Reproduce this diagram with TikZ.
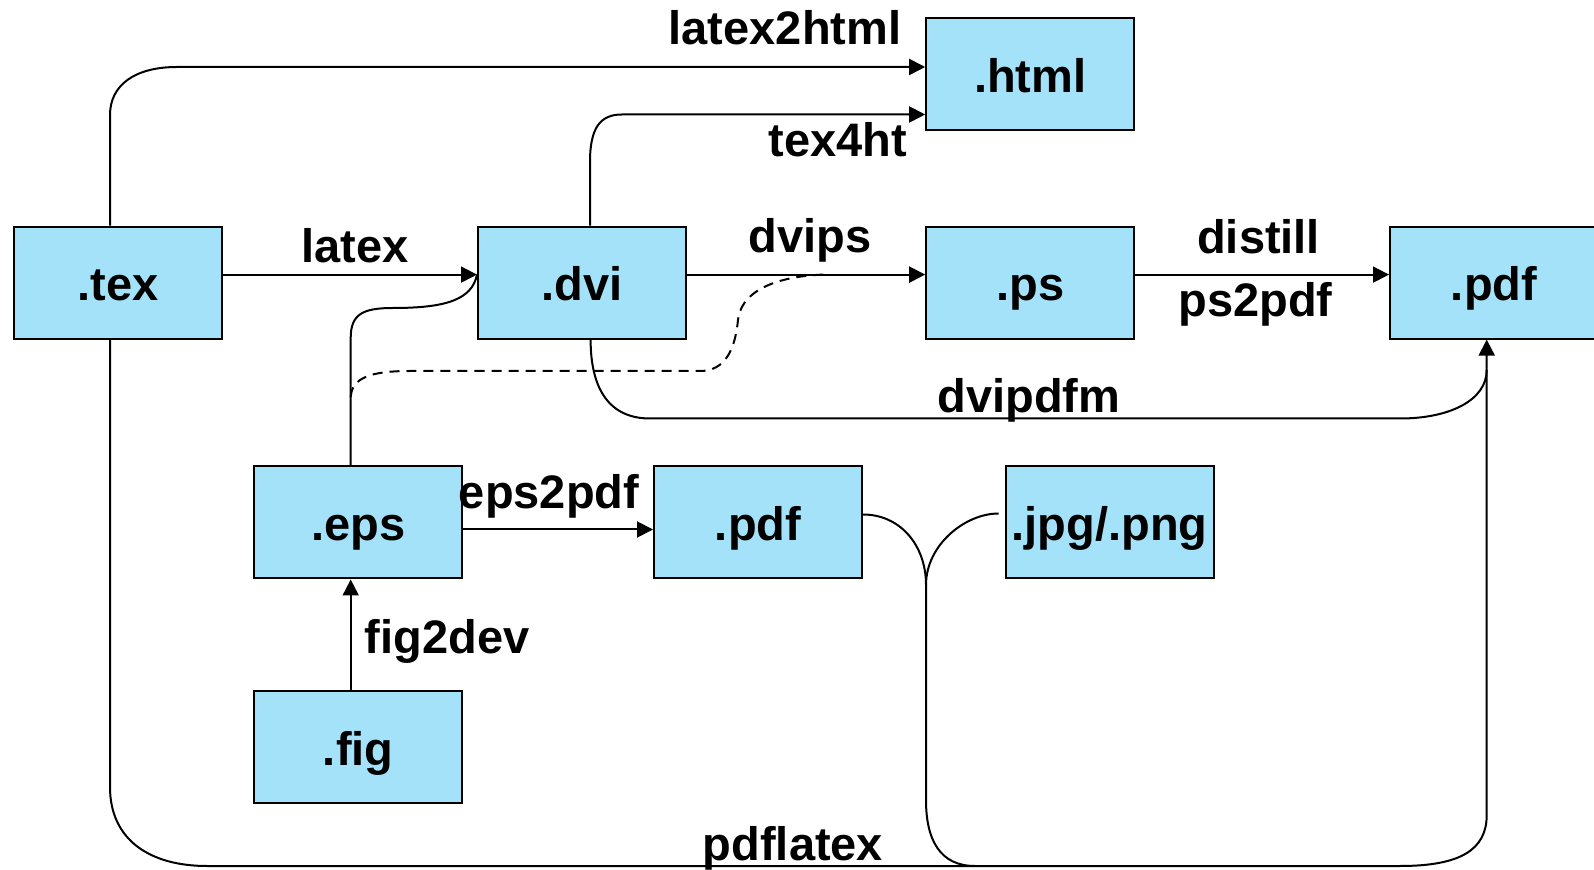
\documentclass[tikz,border=0pt]{standalone}
\usepackage{fontspec}
\setmainfont{Liberation Sans}
\usetikzlibrary{arrows.meta}
\definecolor{boxblue}{RGB}{164,226,250}
\begin{document}
\begin{tikzpicture}[x=0.5pt,y=-0.5pt,line width=1pt,
  filebox/.style={draw=black,fill=boxblue,minimum width=104pt,minimum height=56pt,
    inner sep=0pt,text height=22.4pt,text depth=4pt,
    font=\fontsize{23.5}{28}\selectfont\bfseries},
  tool/.style={inner sep=0pt,anchor=base,font=\fontsize{23.5}{28}\selectfont\bfseries},
  flow/.style={-{Triangle[length=8pt,width=8pt]}},
  maybe/.style={dash pattern=on 5pt off 3.5pt},
]
\useasboundingbox (0,0) rectangle (1594,870);

% file types
\node[filebox] (tex)  at (118.4,282.6) {.tex};
\node[filebox] (dvi)  at (582,282.6)   {.dvi};
\node[filebox] (ps)   at (1030.2,282.6) {.ps};
\node[filebox] (pdfR) at (1494,282.6)  {.pdf};
\node[filebox] (html) at (1030.2,74.2) {.html};
\node[filebox] (eps)  at (358.2,522.5) {.eps};
\node[filebox] (pdfM) at (758,522.5)   {.pdf};
\node[filebox] (jpg)  at (1109.6,522.5) {.jpg/.png};
\node[filebox] (fig)  at (358.2,747.2) {.fig};

% straight conversions
\draw[flow] ([yshift=4pt]tex.east) -- ([yshift=4pt]dvi.west);
\draw[flow] ([yshift=4pt]dvi.east) -- ([yshift=4pt]ps.west);
\draw[flow] ([yshift=4pt]ps.east) -- ([yshift=4pt]pdfR.west);
\draw[flow] ([yshift=-3.5pt]eps.east) -- ([yshift=-3.5pt]pdfM.west);
\draw[flow] ([xshift=-3.75pt]fig.north) -- ([xshift=-3.75pt]eps.south);

% to html
\draw[flow] ([xshift=-4.2pt]tex.north) -- (110,115)
  .. controls (110,85) and (135,67) .. (177,67) -- ([yshift=3.6pt]html.west);
\draw[flow] ([xshift=4pt]dvi.north) -- (590,162)
  .. controls (590,128) and (600,114.5) .. (622,114.5) -- ([yshift=-20.15pt]html.west);

% dvipdfm
\draw ([xshift=4.3pt]dvi.south) .. controls (590.6,390) and (610,418.5) .. (650,418.5)
  -- (1400,418.5) .. controls (1450,418.5) and (1486.7,400) .. (1486.7,370);

% pdflatex
\draw[flow] ([xshift=-4.2pt]tex.south) -- (110,787)
  .. controls (110,840) and (150,866) .. (207,866) -- (1400,866)
  .. controls (1460,866) and (1486.7,850) .. (1486.7,815) -- ([xshift=-3.65pt]pdfR.south);
\draw ([yshift=4pt]pdfM.east) .. controls (900,514.5) and (926,545) .. (926,585)
  -- (926,800) .. controls (926,840) and (940,866) .. (975,866);
\draw ([xshift=-3pt,yshift=4.5pt]jpg.west) .. controls (965,513.5) and (926,545) .. (926,585);

% eps included by the dvi
\draw ([xshift=-3.75pt]eps.north) -- (350.7,338)
  .. controls (350.7,314) and (363,308) .. (393,308)
  .. controls (445,308) and (472,300) .. ([yshift=4pt]dvi.west);
\draw[maybe] (350.7,397) .. controls (352,378) and (370,371) .. (410,371) -- (700,371)
  .. controls (725,371) and (735,350) .. (738,320)
  .. controls (742,285) and (790,275) .. (828,274.5);

% tool names (placed by baseline)
\node[tool] (l1)  at (355,263)    {latex};
\node[tool] (l2)  at (810,253)    {dvips};
\node[tool] (l3)  at (1258.6,253.5) {distill};
\node[tool] (l4)  at (1255.5,317) {ps2pdf};
\node[tool] (l5)  at (785,45)     {latex2html};
\node[tool] (l6)  at (837.7,157)  {tex4ht};
\node[tool] (l7)  at (1029,412.5) {dvipdfm};
\node[tool] (l8)  at (549,508.5)  {eps2pdf};
\node[tool] (l9)  at (447,653.5)  {fig2dev};
\node[tool] (l10) at (793,860)    {pdflatex};
\end{tikzpicture}
\end{document}
